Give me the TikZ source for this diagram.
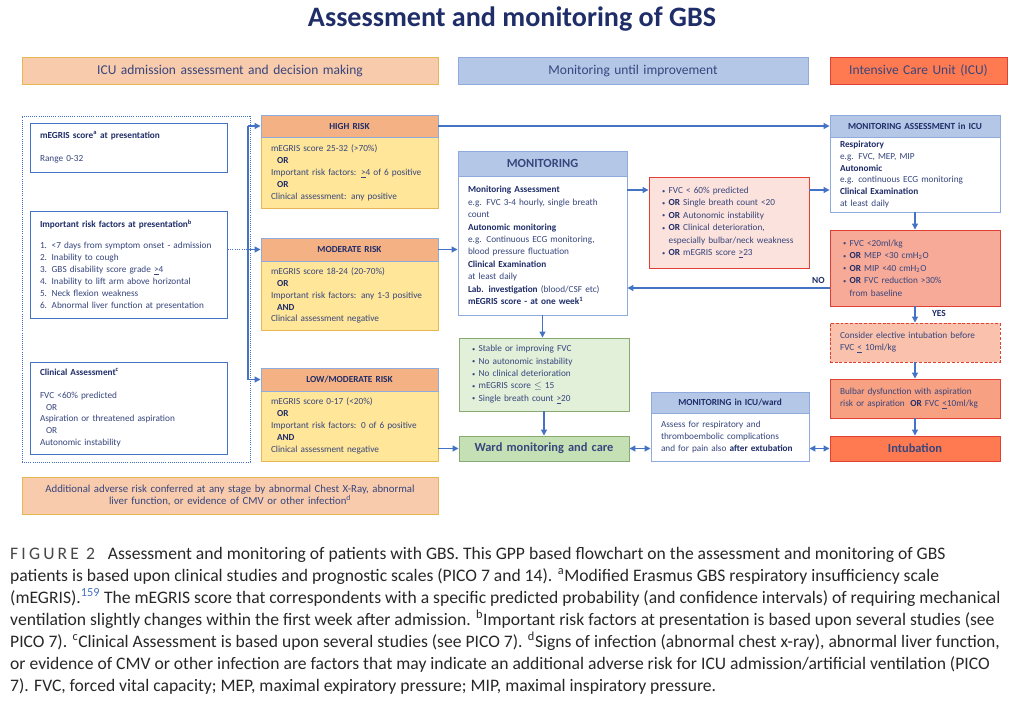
\documentclass[tikz,border=0pt]{standalone}
\usepackage{fontspec}
\setmainfont{Carlito}
\usepackage{tikz}
\usetikzlibrary{arrows.meta}

\definecolor{navy}{RGB}{31,45,105}
\definecolor{txtblue}{RGB}{55,70,125}
\definecolor{peach}{RGB}{248,203,173}
\definecolor{goldline}{RGB}{232,183,85}
\definecolor{paleblue}{RGB}{180,199,231}
\definecolor{midblue}{RGB}{143,170,220}
\definecolor{linkblue}{RGB}{68,114,196}
\definecolor{icuorange}{RGB}{255,122,80}
\definecolor{redline}{RGB}{226,64,52}
\definecolor{riskorange}{RGB}{244,177,131}
\definecolor{riskyellow}{RGB}{255,230,153}
\definecolor{palepink}{RGB}{252,226,220}
\definecolor{salmon}{RGB}{248,170,152}
\definecolor{lightsalmon}{RGB}{250,193,172}
\definecolor{bulbarorange}{RGB}{247,160,130}
\definecolor{palegreen}{RGB}{226,240,217}
\definecolor{wardgreen}{RGB}{197,224,180}
\definecolor{greenline}{RGB}{135,170,115}
\definecolor{captiongray}{RGB}{40,40,40}

\newcommand{\bodyfont}{\fontsize{7.9}{10.2}\selectfont}
\newcommand{\wideline}{\fontsize{7.9}{10.6}\selectfont}
\newcommand{\headfont}{\fontsize{10.6}{12}\selectfont\bfseries\color{navy}}
\newcommand{\barfont}{\fontsize{11.5}{13}\selectfont\color{navy}}
\newcommand{\notefont}{\fontsize{9.2}{11}\selectfont}
\newcommand{\hd}[1]{{\color{navy}\bfseries #1}}
\newcommand{\bul}{\hspace*{0.9mm}\makebox[2mm][l]{\raisebox{0.1ex}{\fontsize{5.5}{6}\selectfont\textbullet}}}
\newcommand{\hang}{\hspace*{2.9mm}}
\newcommand{\geu}[1]{\underline{#1}}
\newcommand{\ind}{\hspace*{1.8mm}}

\tikzset{
  box/.style 2 args={minimum width=#1*0.3mm, text width=(#1-20)*0.3mm,
    minimum height=#2*0.3mm, inner xsep=3mm, inner ysep=0pt,
    draw, line width=0.8pt, align=left, text=txtblue, font=\bodyfont},
  link/.style={draw=linkblue, line width=1pt},
  arr/.style={link, -{Triangle[width=5pt,length=5pt]}},
  dblarr/.style={link, {Triangle[width=5pt,length=5pt]}-{Triangle[width=5pt,length=5pt]}},
  lbl/.style={font=\fontsize{8}{9}\selectfont\bfseries, text=navy, inner sep=1pt},
  captionline/.style={font=\fontsize{15}{18}\selectfont, text=captiongray, inner sep=0pt}
}

\begin{document}
\begin{tikzpicture}[x=0.3mm, y=-0.3mm]
\useasboundingbox (0,0) rectangle (1024,701);
\fill[white] (0,0) rectangle (1024,701);

% title and column bars
\node[font=\fontsize{24}{28}\selectfont\bfseries, text=navy] (title) at (512,19) {Assessment and monitoring of GBS};
\node[box={416}{27}, fill=peach, draw=goldline, align=center, font=\barfont] (barA) at (230,70.5) {ICU admission assessment and decision making};
\node[box={350}{27}, fill=paleblue, draw=midblue, align=center, font=\barfont] (barB) at (633,70.5) {Monitoring until improvement};
\node[box={177}{27}, fill=icuorange, draw=redline, align=center, font=\barfont] (barC) at (918.5,70.5) {Intensive Care Unit (ICU)};

% presentation column
\node[box={228}{346}, draw=linkblue, densely dotted, line width=0.6pt] (pres) at (136,289) {};
\node[box={197}{49}, draw=linkblue, fill=white] (megris) at (128.5,147.5) {\hd{mEGRIS score\textsuperscript{a} at presentation}\\[10.2pt] Range 0-32};
\node[box={197}{107}, draw=linkblue, fill=white] (rf) at (128.5,264.5) {\hd{Important risk factors at presentation\textsuperscript{b}}\\[7.7pt]
  1. <7 days from symptom onset - admission\\ 2. Inability to cough\\ 3. GBS disability score grade \geu{>}4\\
  4. Inability to lift arm above horizontal\\ 5. Neck flexion weakness\\ 6. Abnormal liver function at presentation};
\node[box={197}{92}, draw=linkblue, fill=white] (clin) at (128.5,408) {\hd{Clinical Assessment\textsuperscript{c}}\\[9.4pt]
  FVC <60\% predicted\\ \ind OR\\ Aspiration or threatened aspiration\\ \ind OR\\ Autonomic instability};

% risk groups
\node[box={177}{71}, fill=riskyellow, draw=goldline] (highb) at (349.5,172.5) {mEGRIS score 25-32 (>70\%)\\ \ind\hd{OR}\\ Important risk factors: \geu{>}4 of 6 positive\\ \ind\hd{OR}\\ Clinical assessment: any positive};
\node[box={177}{22}, fill=riskorange, draw=midblue, align=center] (highh) at (349.5,126) {\hd{HIGH RISK}};
\node[box={177}{69}, fill=riskyellow, draw=goldline] (modb) at (349.5,295.5) {mEGRIS score 18-24 (20-70\%)\\ \ind\hd{OR}\\ Important risk factors: any 1-3 positive\\ \ind\hd{AND}\\ Clinical assessment negative};
\node[box={177}{23}, fill=riskorange, draw=midblue, align=center] (modh) at (349.5,249.5) {\hd{MODERATE RISK}};
\node[box={177}{70}, fill=riskyellow, draw=goldline] (lowb) at (349.5,426) {mEGRIS score 0-17 (<20\%)\\ \ind\hd{OR}\\ Important risk factors: 0 of 6 positive\\ \ind\hd{AND}\\ Clinical assessment negative};
\node[box={177}{23}, fill=riskorange, draw=midblue, align=center] (lowh) at (349.5,379.5) {\hd{LOW/MODERATE RISK}};

% monitoring column
\node[box={169}{139}, fill=white, draw=midblue, font=\wideline] (monb) at (542.5,245.5) {\hd{Monitoring Assessment}\\ e.g. FVC 3-4 hourly, single breath\\ count\\
  \hd{Autonomic monitoring}\\ e.g. Continuous ECG monitoring,\\ blood pressure fluctuation\\ \hd{Clinical Examination}\\ at least daily\\
  \hd{Lab. investigation} (blood/CSF etc)\\ \hd{mEGRIS score - at one week\textsuperscript{1}}};
\node[box={169}{25}, fill=paleblue, draw=midblue, align=center, font=\headfont] (monh) at (542.5,163.5) {MONITORING};
\node[box={160}{91}, fill=palepink, draw=redline, font=\wideline] (crit) at (729,222.5) {\bul FVC < 60\% predicted\\ \bul\hd{OR} Single breath count <20\\
  \bul\hd{OR} Autonomic instability\\ \bul\hd{OR} Clinical deterioration,\\ \hang especially bulbar/neck weakness\\ \bul\hd{OR} mEGRIS score \geu{>}23};
\node[box={170}{73}, fill=palegreen, draw=greenline, font=\wideline] (stable) at (544,374.5) {\bul Stable or improving FVC\\ \bul No autonomic instability\\
  \bul No clinical deterioration\\ \bul mEGRIS score $\leq$ 15\\ \bul Single breath count \geu{>}20};
\node[box={170}{25}, fill=wardgreen, draw=greenline, align=center, font=\headfont] (ward) at (544,448.5) {Ward monitoring and care};
\node[box={158}{48}, fill=white, draw=midblue, font=\wideline] (icuwb) at (730,437) {Assess for respiratory and\\ thromboembolic complications\\ and for pain also \hd{after extubation}};
\node[box={158}{21}, fill=paleblue, draw=midblue, align=center] (icuwh) at (730,402.5) {\hd{MONITORING in ICU/ward}};

% ICU column
\node[box={170}{75}, fill=white, draw=midblue] (icub) at (915,174.5) {\hd{Respiratory}\\ e.g. FVC, MEP, MIP\\ \hd{Autonomic}\\ e.g. continuous ECG monitoring\\ \hd{Clinical Examination}\\ at least daily};
\node[box={170}{22}, fill=paleblue, draw=midblue, align=center] (icuh) at (915,126) {\hd{MONITORING ASSESSMENT in ICU}};
\node[box={170}{76}, fill=salmon, draw=redline, font=\wideline] (fvc) at (915,268) {\bul FVC <20ml/kg\\ \bul\hd{OR} MEP <30 cmH\textsubscript{2}O\\
  \bul\hd{OR} MIP <40 cmH\textsubscript{2}O\\ \bul\hd{OR} FVC reduction >30\%\\ \hang from baseline};
\node[box={170}{39}, fill=lightsalmon, draw=redline, dash pattern=on 2.5pt off 1.5pt] (elect) at (915,342.5) {Consider elective intubation before\\ FVC \geu{<} 10ml/kg};
\node[box={170}{39}, fill=bulbarorange, draw=redline] (bulbar) at (915,398.5) {Bulbar dysfunction with aspiration\\ risk or aspiration\hspace{0.6em}\hd{OR} FVC \geu{<}10ml/kg};
\node[box={170}{25}, fill=icuorange, draw=redline, align=center, font=\headfont] (intub) at (915,448.5) {Intubation};

\node[box={416}{37}, fill=peach, draw=goldline, align=center, font=\notefont] (extra) at (230,495.5) {Additional adverse risk conferred at any stage by abnormal Chest X-Ray, abnormal\\ liver function, or evidence of CMV or other infection\textsuperscript{d}};

% connectors
\coordinate (spine) at (248,0);
\draw[link, densely dotted] (rf.east |- modh.west) -- (spine |- modh.west);
\draw[link] (spine |- highh.west) -- (spine |- lowh.west);
\draw[arr] (spine |- highh.west) -- (highh.west);
\draw[arr] (spine |- modh.west) -- (modh.west);
\draw[arr] (spine |- lowh.west) -- (lowh.west);
\draw[arr] (highh.east) -- (icuh.west);
\draw[arr] (modh.east) -- (modh.east -| monb.west);
\draw[arr] (lowb.east |- ward.west) -- (ward.west);
\coordinate (alarm) at (0,190);
\draw[arr] (monb.east |- alarm) -- (crit.west |- alarm);
\draw[arr] (crit.east |- alarm) -- (icub.west |- alarm);
\draw[arr] (icub.south) -- (fvc.north);
\draw[arr] (fvc.south) -- (elect.north);
\node[lbl] (yes) at (939,313) {YES};
\draw[arr] (elect.south) -- (bulbar.north);
\draw[arr] (bulbar.south) -- (intub.north);
\coordinate (back) at (0,288);
\draw[arr] (fvc.west |- back) -- (monb.east |- back);
\node[lbl, anchor=east] (no) at (826,280) {NO};
\draw[arr] (monb.south) -- (monb.south |- stable.north);
\draw[arr] (stable.south) -- (ward.north);
\draw[dblarr] (ward.east) -- (ward.east -| icuwb.west);
\draw[dblarr] (intub.west -| icuwb.east) -- (intub.west);

% caption
\node[captionline, anchor=base west] (cap1) at (10,559) {{\addfontfeatures{LetterSpace=18}\color{black!72}FIGURE 2}\hspace{0.5em} Assessment and monitoring of patients with GBS. This GPP based flowchart on the assessment and monitoring of GBS};
\node[captionline, anchor=base west] (cap2) at (10,581) {patients is based upon clinical studies and prognostic scales (PICO 7 and 14). \textsuperscript{a}Modified Erasmus GBS respiratory insufficiency scale};
\node[captionline, anchor=base west] (cap3) at (10,603) {(mEGRIS).\textsuperscript{\color{linkblue}159} The mEGRIS score that correspondents with a specific predicted probability (and confidence intervals) of requiring mechanical};
\node[captionline, anchor=base west] (cap4) at (10,625) {ventilation slightly changes within the first week after admission. \textsuperscript{b}Important risk factors at presentation is based upon several studies (see};
\node[captionline, anchor=base west] (cap5) at (10,647) {PICO 7). \textsuperscript{c}Clinical Assessment is based upon several studies (see PICO 7). \textsuperscript{d}Signs of infection (abnormal chest x-ray), abnormal liver function,};
\node[captionline, anchor=base west] (cap6) at (10,669) {or evidence of CMV or other infection are factors that may indicate an additional adverse risk for ICU admission/artificial ventilation (PICO};
\node[captionline, anchor=base west] (cap7) at (10,691) {7). FVC, forced vital capacity; MEP, maximal expiratory pressure; MIP, maximal inspiratory pressure.};
\end{tikzpicture}
\end{document}
